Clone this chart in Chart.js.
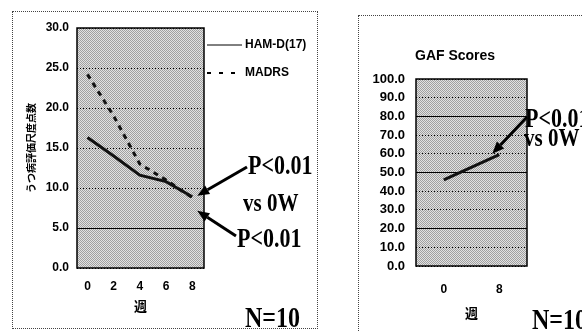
<!DOCTYPE html>
<html>
<head>
<meta charset="utf-8">
<script src="https://cdn.jsdelivr.net/npm/chart.js@4/dist/chart.umd.min.js"></script>
<style>
  body { margin: 0; width: 582px; height: 332px; background: #fff; position: relative; overflow: hidden; }
  .box { position: absolute; border: 1px dotted #444; }
  canvas { position: absolute; top: 0; }
  .note { position: absolute; font-family: "Liberation Serif", "Times New Roman", serif; font-weight: bold; color: #000; white-space: nowrap; line-height: 1; transform: scaleY(1.2); transform-origin: left bottom; }
  .title { position: absolute; font-family: "Liberation Sans", Arial, sans-serif; font-weight: bold; font-size: 14px; line-height: 14px; color: #000; }
</style>
</head>
<body>
<div class="box" style="left:12px;top:11px;width:304px;height:316px"></div>
<div class="box" style="left:358px;top:15px;width:240px;height:330px"></div>
<canvas id="depression-graph" width="320" height="332" style="left:0"></canvas>
<canvas id="gaf-graph" width="242" height="332" style="left:340px"></canvas>

<div class="title" style="left:415px;top:48px">GAF Scores</div>
<div class="note" style="left:248px;top:157px;font-size:22px">P&lt;0.01</div>
<div class="note" style="left:243px;top:195px;font-size:21px">vs 0W</div>
<div class="note" style="left:237px;top:230px;font-size:22px">P&lt;0.01</div>
<div class="note" style="left:245px;top:308px;font-size:24px">N=10</div>
<div class="note" style="left:525px;top:110px;font-size:22px">P&lt;0.01</div>
<div class="note" style="left:524px;top:130px;font-size:21px">vs 0W</div>
<div class="note" style="left:532px;top:310px;font-size:24px">N=10</div>

<script>
// * Data
const weeks = [0, 2, 4, 6, 8];
const hamd = [16.3, 14.0, 11.6, 10.8, 8.9];
const madrs = [24.2, 19.0, 13.0, 11.0, 8.8];
const depTicks = [0, 5, 10, 15, 20, 25, 30];
const depSolid = [5];

const gafWeeks = ["0", "8"];
const gafScores = [46.0, 59.5];
const gafTicks = [0, 10, 20, 30, 40, 50, 60, 70, 80, 90, 100];
const gafSolid = [20, 50, 80];

const sans = '"Liberation Sans", Arial, sans-serif';
const tickFont = { family: sans, size: 12, weight: "bold" };
const kanjiFont = { family: '"Noto Sans CJK JP"', size: 13, weight: "bold" };

// halftone-ish grey for the plot area
function stipple(ctx) {
  const c = document.createElement("canvas");
  c.width = 2;
  c.height = 2;
  const p = c.getContext("2d");
  p.fillStyle = "#e2e2e2";
  p.fillRect(0, 0, 2, 2);
  p.fillStyle = "#a0a0a0";
  p.fillRect(0, 0, 1, 1);
  p.fillRect(1, 1, 1, 1);
  return ctx.createPattern(c, "repeat");
}

const plotBox = {
  id: "plotBox",
  beforeDraw(chart) {
    const a = chart.chartArea;
    const ctx = chart.ctx;
    ctx.save();
    ctx.fillStyle = stipple(ctx);
    ctx.fillRect(a.left, a.top, a.width, a.height);
    ctx.restore();
  },
  afterDraw(chart) {
    const a = chart.chartArea;
    const ctx = chart.ctx;
    ctx.save();
    ctx.strokeStyle = "#000";
    ctx.lineWidth = 1.5;
    ctx.strokeRect(a.left, a.top, a.width, a.height);
    ctx.restore();
  },
};

function arrow(ctx, x1, y1, x2, y2) {
  const ang = Math.atan2(y2 - y1, x2 - x1);
  const len = 12;
  const bx = x2 - len * Math.cos(ang);
  const by = y2 - len * Math.sin(ang);
  ctx.save();
  ctx.strokeStyle = "#000";
  ctx.fillStyle = "#000";
  ctx.lineWidth = 3;
  ctx.beginPath();
  ctx.moveTo(x1, y1);
  ctx.lineTo(bx, by);
  ctx.stroke();
  ctx.beginPath();
  ctx.moveTo(x2, y2);
  ctx.lineTo(bx + 5 * Math.sin(ang), by - 5 * Math.cos(ang));
  ctx.lineTo(bx - 5 * Math.sin(ang), by + 5 * Math.cos(ang));
  ctx.closePath();
  ctx.fill();
  ctx.restore();
}

// * Depression chart
const sideLegend = {
  id: "sideLegend",
  afterDraw(chart) {
    const ctx = chart.ctx;
    const a = chart.chartArea;
    chart.data.datasets.forEach((ds, i) => {
      const y = 45 + i * 28;
      ctx.save();
      ctx.strokeStyle = "#000";
      ctx.lineWidth = i ? 2 : 1;
      ctx.setLineDash(i ? [4, 8] : []);
      ctx.beginPath();
      ctx.moveTo(a.right + 3, y);
      ctx.lineTo(a.right + 38, y);
      ctx.stroke();
      ctx.fillStyle = "#000";
      ctx.font = "bold 12px " + sans;
      ctx.textBaseline = "middle";
      ctx.fillText(ds.label, a.right + 41, y);
      ctx.restore();
    });
  },
};

const depArrows = {
  id: "depArrows",
  afterDraw(chart) {
    const pt = chart.getDatasetMeta(0).data[weeks.length - 1];
    arrow(chart.ctx, 247, 167, pt.x + 5, pt.y - 1);
    arrow(chart.ctx, 236, 236, pt.x + 5, pt.y + 14);
  },
};

var dlg = document.getElementById("depression-graph").getContext("2d");

var depressionChart = new Chart(dlg, {
  type: "line",
  data: {
    datasets: [
      {
        label: "HAM-D(17)",
        data: weeks.map((w, i) => ({ x: w, y: hamd[i] })),
        borderColor: "#111",
        borderWidth: 3,
        pointRadius: 0,
        tension: 0,
      },
      {
        label: "MADRS",
        data: weeks.map((w, i) => ({ x: w, y: madrs[i] })),
        borderColor: "#111",
        borderWidth: 3,
        borderDash: [5, 5],
        pointRadius: 0,
        tension: 0,
      },
    ],
  },
  options: {
    responsive: false,
    animation: false,
    layout: { padding: { left: 12, top: 28, right: 116, bottom: 14 } },
    plugins: { legend: { display: false }, tooltip: { enabled: false } },
    scales: {
      x: {
        type: "linear",
        min: -0.8,
        max: 8.9,
        afterBuildTicks: (s) => {
          s.ticks = weeks.map((v) => ({ value: v }));
        },
        afterFit: (s) => {
          s.height = 50;
        },
        grid: { display: false },
        border: { display: false },
        ticks: { font: tickFont, color: "#000", padding: 3 },
        title: { display: true, text: "週", color: "#000", font: kanjiFont, padding: { top: 0, bottom: 4 } },
      },
      y: {
        min: 0,
        max: 30,
        afterBuildTicks: (s) => {
          s.ticks = depTicks.map((v) => ({ value: v }));
        },
        afterFit: (s) => {
          s.width = 65;
        },
        grid: { color: "#000", lineWidth: 1, drawTicks: false },
        border: { display: false, dash: (ctx) => (depSolid.includes(ctx.tick.value) ? [] : [1, 2]) },
        ticks: { font: tickFont, color: "#000", padding: 8, callback: (v) => v.toFixed(1) },
        title: { display: true, text: "うつ病評価尺度点数", color: "#000", font: { family: '"Noto Sans CJK JP"', size: 10, weight: "bold" }, padding: { top: 13, bottom: 0 } },
      },
    },
  },
  plugins: [plotBox, sideLegend, depArrows],
});

// * GAF chart
const gafArrow = {
  id: "gafArrow",
  afterDraw(chart) {
    const pt = chart.getDatasetMeta(0).data[gafScores.length - 1];
    arrow(chart.ctx, 187, 117, pt.x - 7, pt.y - 1);
  },
};

var ggc = document.getElementById("gaf-graph").getContext("2d");

var gafChart = new Chart(ggc, {
  type: "line",
  data: {
    labels: gafWeeks,
    datasets: [
      {
        label: "GAF",
        data: gafScores,
        borderColor: "#111",
        borderWidth: 3,
        pointRadius: 0,
        tension: 0,
      },
    ],
  },
  options: {
    responsive: false,
    animation: false,
    layout: { padding: { left: 10, top: 79, right: 55, bottom: 10 } },
    plugins: { legend: { display: false }, tooltip: { enabled: false } },
    scales: {
      x: {
        offset: true,
        afterFit: (s) => {
          s.height = 56;
        },
        grid: { display: false },
        border: { display: false },
        ticks: { font: tickFont, color: "#000", padding: 8 },
        title: { display: true, text: "週", color: "#000", font: kanjiFont, padding: { top: 0, bottom: 1 } },
      },
      y: {
        min: 0,
        max: 100,
        afterBuildTicks: (s) => {
          s.ticks = gafTicks.map((v) => ({ value: v }));
        },
        afterFit: (s) => {
          s.width = 66;
        },
        grid: { color: "#000", lineWidth: 1, drawTicks: false },
        border: { display: false, dash: (ctx) => (gafSolid.includes(ctx.tick.value) ? [] : [1, 2]) },
        ticks: { font: { family: sans, size: 13, weight: "bold" }, color: "#000", padding: 11, callback: (v) => v.toFixed(1) },
      },
    },
  },
  plugins: [plotBox, gafArrow],
});
</script>
</body>
</html>
